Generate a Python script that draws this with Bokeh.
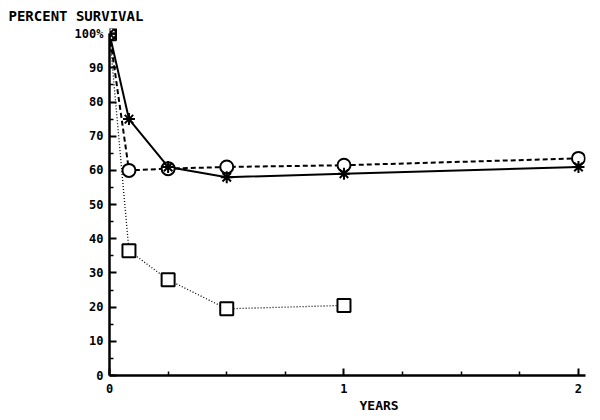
from bokeh.plotting import figure
from bokeh.models import Range1d, FixedTicker, Title
from bokeh.embed import file_html
from bokeh.resources import INLINE

# Data (years after treatment, percent survival)
years_star = [0, 0.083, 0.25, 0.5, 1, 2]
pct_star = [100, 75, 61, 58, 59, 61]

years_circle = [0, 0.083, 0.25, 0.5, 1, 2]
pct_circle = [100, 60, 60.5, 61, 61.5, 63.5]

years_square = [0, 0.083, 0.25, 0.5, 1]
pct_square = [100, 36.5, 28, 19.5, 20.5]

y_major = list(range(0, 101, 10))
y_minor = list(range(5, 100, 10))
x_major = [0, 1, 2]
x_minor = [0.25, 0.5, 0.75, 1.25, 1.5, 1.75]

FONT = "DejaVu Sans Mono"

p = figure(width=588, height=412, output_backend="svg", toolbar_location=None,
           x_range=Range1d(0, 2.03), y_range=Range1d(0, 101.5),
           min_border_left=109, min_border_right=3, min_border_top=0,
           min_border_bottom=0)
p.outline_line_color = None
p.grid.visible = False
p.background_fill_color = "white"

p.title.text = "PERCENT SURVIVAL"
p.title.align = "left"
p.title.offset = -101
p.title.text_font = FONT
p.title.text_font_style = "bold"
p.title.text_font_size = "14px"
p.title.text_color = "black"

p.add_layout(Title(text="YEARS", align="left", offset=250, standoff=0, text_font=FONT,
                   text_font_style="bold", text_font_size="13px",
                   text_color="black"), "below")

# axes
p.yaxis.bounds = (0, 100)
p.xaxis.bounds = (0, 2.03)
p.xaxis.ticker = FixedTicker(ticks=x_major, minor_ticks=x_minor)
p.yaxis.ticker = FixedTicker(ticks=y_major, minor_ticks=y_minor)
p.yaxis.major_label_overrides = {100: "100%"}
for ax in (p.xaxis, p.yaxis):
    ax.axis_line_width = 2.5
    ax.axis_line_color = "black"
    ax.major_tick_in = 7
    ax.major_tick_out = 0
    ax.minor_tick_in = 4
    ax.minor_tick_out = 0
    ax.major_tick_line_width = 2
    ax.minor_tick_line_width = 1.5
    ax.major_tick_line_color = "black"
    ax.minor_tick_line_color = "black"
    ax.major_label_text_font = FONT
    ax.major_label_text_font_style = "bold"
    ax.major_label_text_font_size = "12px"
    ax.major_label_text_color = "black"
p.xaxis.major_label_standoff = 8
p.yaxis.major_label_standoff = 6

# lines
p.line(years_square, pct_square, line_color="black", line_width=1.3, line_dash="1 2")
p.line(years_circle, pct_circle, line_color="black", line_width=2, line_dash="5 3")
p.line(years_star, pct_star, line_color="black", line_width=2)

# markers
p.scatter(years_square, pct_square, marker="square", size=13, line_color="black",
          line_width=2, fill_color="white")
p.scatter(years_circle, pct_circle, marker="circle", size=13, line_color="black",
          line_width=2, fill_color="white")
p.scatter(years_star, pct_star, marker="asterisk", size=12, line_color="black",
          line_width=2)

open("out.html", "w").write(file_html(p, INLINE))
